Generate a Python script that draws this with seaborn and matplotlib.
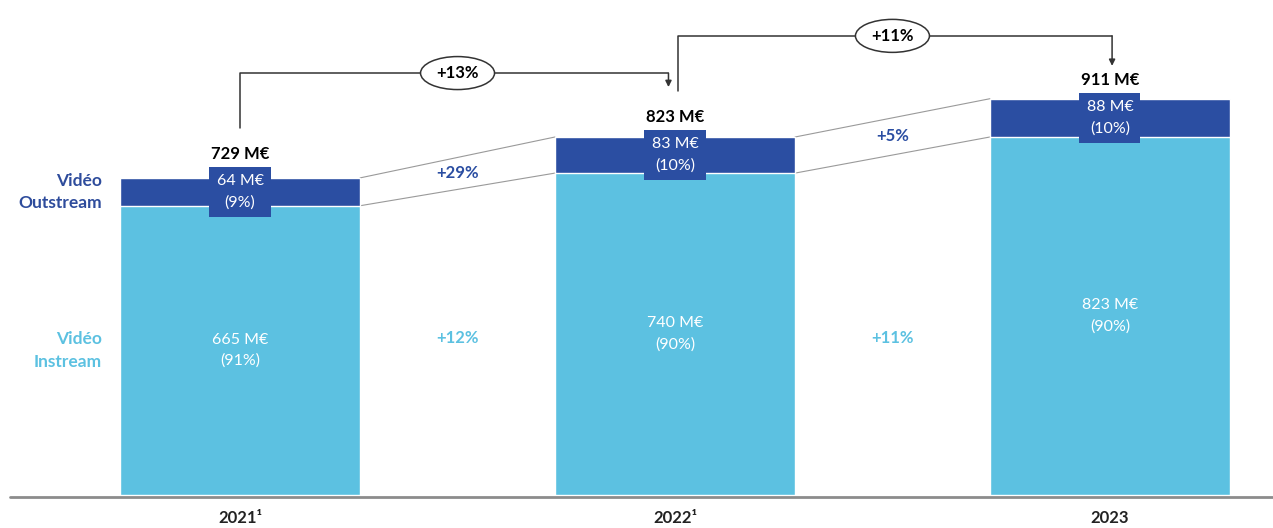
import matplotlib
matplotlib.use("Agg")
import matplotlib.pyplot as plt
from matplotlib.patches import Ellipse
import seaborn as sns
import numpy as np

# ---- data ----
years = ["2021", "2022", "2023"]
year_labels = ["2021¹", "2022¹", "2023"]
instream = [665, 740, 823]
outstream = [64, 83, 88]
totals = [729, 823, 911]
instream_share = ["91%", "90%", "90%"]
outstream_share = ["9%", "10%", "10%"]
total_growth = ["+13%", "+11%"]
outstream_growth = ["+29%", "+5%"]
instream_growth = ["+12%", "+11%"]

DARK = "#2B4EA2"
LIGHT = "#5CC1E1"
GREY = "#9A9A9A"

sns.set_theme(style="white")
plt.rcParams["font.family"] = ["Lato", "DejaVu Sans"]

fig = plt.figure(figsize=(12.73, 5.28), dpi=100)
ax = fig.add_axes([0, 0, 1, 1])

W = 0.552
sns.barplot(x=years, y=totals, color=DARK, width=W, saturation=1, ax=ax, zorder=2)
sns.barplot(x=years, y=instream, color=LIGHT, width=W, saturation=1, ax=ax, zorder=3)

ax.set_xlim(-0.552, 2.375)
ax.set_ylim(-76, 1138)
ax.axis("off")

# px -> data helpers (for offsets only)
PX_X = 1 / 435.0
PX_Y = 1 / 0.435

# baseline
ax.axhline(-4, xmin=10 / 1273, xmax=1, color="#8C8C8C", lw=2, zorder=4)

n = len(years)
label_y = []
for i in range(n):
    mid_out = (totals[i] + instream[i]) / 2
    ax.text(i, mid_out, f"{outstream[i]} M€\n({outstream_share[i]})", ha="center", va="center",
            color="white", fontsize=11.5, linespacing=1.6, zorder=6,
            bbox=dict(boxstyle="square,pad=0.45", fc=DARK, ec="none"))
    ly = mid_out + 38 * PX_Y
    label_y.append(ly)
    ax.text(i, ly, f"{totals[i]} M€", ha="center", va="center", color="black",
            fontsize=12, fontweight="bold", zorder=6)
    ax.text(i, instream[i] / 2, f"{instream[i]} M€\n({instream_share[i]})", ha="center", va="center",
            color="white", fontsize=11.5, linespacing=1.6, zorder=6)
    ax.text(i, -23 * PX_Y, year_labels[i], ha="center", va="center", color="#222222",
            fontsize=12, fontweight="bold")

# connectors and growth labels
for i in range(n - 1):
    x0, x1 = i + W / 2, i + 1 - W / 2
    ax.plot([x0, x1], [totals[i], totals[i + 1]], color=GREY, lw=0.8, zorder=1)
    ax.plot([x0, x1], [instream[i], instream[i + 1]], color=GREY, lw=0.8, zorder=1)
    ym = (totals[i] + totals[i + 1] + instream[i] + instream[i + 1]) / 4
    ax.text(i + 0.5, ym, outstream_growth[i], ha="center", va="center", color=DARK,
            fontsize=12, fontweight="bold")
    ax.text(i + 0.5, 362, instream_growth[i], ha="center", va="center", color=LIGHT,
            fontsize=12, fontweight="bold")

    # total growth bracket arrows
    xs = i + (0.0 if i == 0 else 0.006)
    xe = i + 1 - 0.015 + (0.02 if i == 1 else 0)
    ystart = label_y[i] + 26 * PX_Y
    level = max(label_y[i], label_y[i + 1]) + 44 * PX_Y
    ytip = label_y[i + 1] + (30 if i == 0 else 14) * PX_Y
    ax.plot([xs, xs, xe], [ystart, level, level], color="#333333", lw=1.1, zorder=5)
    ax.annotate("", xy=(xe, ytip), xytext=(xe, level),
                arrowprops=dict(arrowstyle="-|>", color="#333333", lw=1.1,
                                mutation_scale=9, shrinkA=0, shrinkB=0), zorder=5)
    xc = i + 0.5
    ax.add_patch(Ellipse((xc, level), width=74 * PX_X, height=33 * PX_Y, fc="white",
                         ec="#333333", lw=1.1, zorder=6))
    ax.text(xc, level, total_growth[i], ha="center", va="center", color="black",
            fontsize=12, fontweight="bold", zorder=7)

# series labels on the left
ax.text(-0.317, (totals[0] + instream[0]) / 2, "Vidéo\nOutstream", ha="right", va="center",
        color="#2E4C9C", fontsize=12.5, fontweight="bold", linespacing=1.5)
ax.text(-0.317, instream[0] / 2, "Vidéo\nInstream", ha="right", va="center",
        color=LIGHT, fontsize=12.5, fontweight="bold", linespacing=1.5)

fig.savefig("out.png", dpi=100)
